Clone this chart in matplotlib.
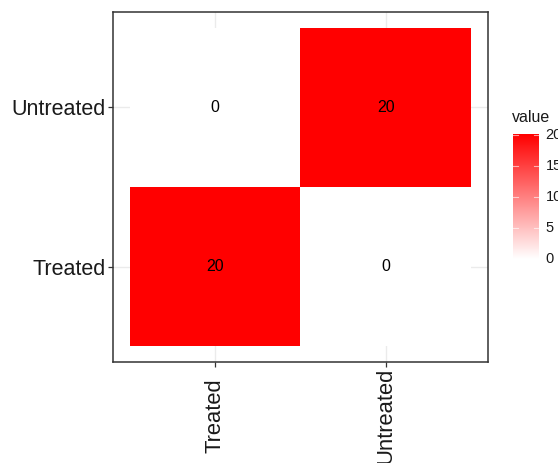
import numpy as np
import matplotlib
matplotlib.use("Agg")
import matplotlib.pyplot as plt
from matplotlib.colors import LinearSegmentedColormap, Normalize

plt.rcParams['font.family'] = ['Liberation Sans', 'DejaVu Sans']

# Data
x_labels = ["Treated", "Untreated"]
y_labels = ["Treated", "Untreated"]
# rows follow y_labels, columns follow x_labels
values = np.array([
    [20, 0],
    [0, 20],
])
vmin, vmax = 0, 20
cbar_ticks = [0, 5, 10, 15, 20]

W, H, DPI = 558, 463, 100
fig = plt.figure(figsize=(W / DPI, H / DPI), dpi=DPI)
fig.patch.set_facecolor("white")

def px_axes(left, top, right, bottom):
    return fig.add_axes([left / W, 1 - bottom / H, (right - left) / W, (bottom - top) / H])

ax = px_axes(113, 12, 488, 362)
cmap = LinearSegmentedColormap.from_list("wr", ["#ffffff", "#ff0000"])
norm = Normalize(vmin, vmax)

nx, ny = len(x_labels), len(y_labels)
xe = np.arange(nx + 1) + 0.5
ye = np.arange(ny + 1) + 0.5
ax.set_axisbelow(True)
ax.grid(True, color="#ebebeb", linewidth=1.0, zorder=0)
mesh = ax.pcolormesh(xe, ye, values, cmap=cmap, norm=norm, zorder=2)

for i in range(ny):
    for j in range(nx):
        ax.text(j + 1, i + 1, f"{values[i, j]}", ha="center", va="center",
                fontsize=11.5, color="black", zorder=3)

ax.set_xlim(0.4, nx + 0.6)
ax.set_ylim(0.4, ny + 0.6)
ax.set_xticks(np.arange(1, nx + 1))
ax.set_yticks(np.arange(1, ny + 1))
ax.set_xticklabels(x_labels, rotation=90, fontsize=15.8, color="#1a1a1a",
                   va="center", ha="center", rotation_mode="anchor")
ax.set_yticklabels(y_labels, fontsize=15.5, color="#1a1a1a")
ax.tick_params(length=3.5, width=0.9, color="#333333")
ax.tick_params(axis="y", pad=2)
ax.tick_params(axis="x", pad=35.5)
for s in ax.spines.values():
    s.set_color("#333333")
    s.set_linewidth(1.1)
    s.set_zorder(5)

# Colour bar legend
cax = px_axes(513, 133, 539, 261)
grad = np.linspace(vmin, vmax, 256).reshape(-1, 1)
cax.imshow(grad, cmap=cmap, norm=norm, aspect="auto", origin="lower",
           extent=[0, 1, vmin, vmax])
cax.set_xlim(0, 1)
cax.set_ylim(vmin - 0.3, vmax + 0.3)
for sp in cax.spines.values():
    sp.set_visible(False)
cax.set_xticks([])
cax.set_yticks([])
for t in cbar_ticks:
    cax.plot([0, 0.2], [t, t], color="white", lw=0.8, alpha=0.6)
    cax.plot([0.8, 1.0], [t, t], color="white", lw=0.8, alpha=0.6)
    cax.text(1.25, t, str(t), ha="left", va="center", fontsize=10.5, color="#1a1a1a",
             transform=cax.transData, clip_on=False)
fig.text(512 / W, 1 - 118 / H, "value", ha="left", va="center", fontsize=11.5, color="#1a1a1a")

fig.savefig("out.png", dpi=DPI)
